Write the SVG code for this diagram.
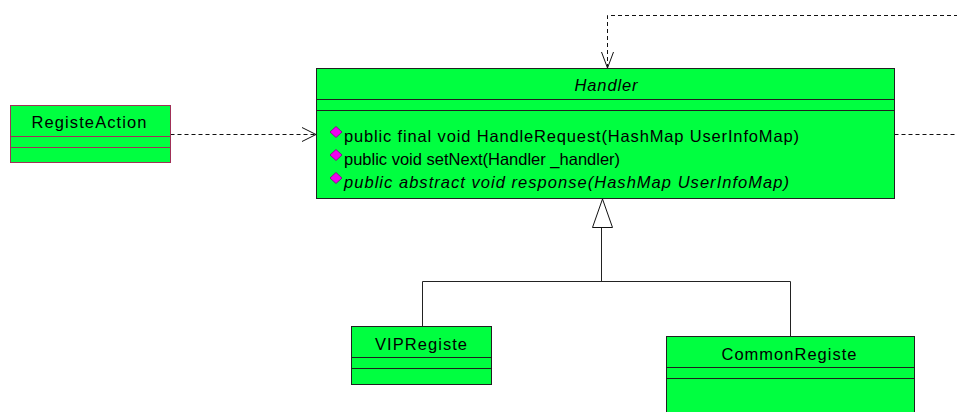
<svg xmlns="http://www.w3.org/2000/svg" width="957" height="412" viewBox="0 0 957 412">
<style>
.box{fill:#00ff40;stroke:#202020;stroke-width:1}
.boxr{fill:#00ff40;stroke:#a03058;stroke-width:1}
.div{stroke:#202020;stroke-width:1;fill:none}
.divr{stroke:#a03058;stroke-width:1;fill:none}
text{font-family:"Liberation Sans",Arial,sans-serif;font-size:16.5px;fill:#000}
.c{text-anchor:middle}
.it{font-style:italic}
.dash{stroke:#111;stroke-width:1;fill:none;stroke-dasharray:4,3}
.solid{stroke:#222;stroke-width:1;fill:none}
.head{stroke:#111;stroke-width:1;fill:none}
.dia{fill:#f000f0;stroke:#800080;stroke-width:0.8}
</style>
<g id="connectors">
  <path class="dash" d="M170.5,134.5 H315"/>
  <path class="head" d="M302,127.5 L316,134.5 L302,141.5"/>
  <path class="dash" d="M607.5,68 V15.5 H957"/>
  <path class="head" d="M601.5,52 L607.5,68 L613.5,52"/>
  <path class="dash" d="M894.5,134.5 H957"/>
  <path class="solid" d="M422.5,326 V281.5 H790.5 V336"/>
  <path class="solid" d="M601.5,281.5 V227"/>
  <polygon points="602.5,199 592.5,227.5 612.5,227.5" fill="#fff" stroke="#111" stroke-width="1"/>
</g>
<g id="RegisteAction">
  <rect class="boxr" x="10.5" y="105.5" width="160" height="57"/>
  <path class="divr" d="M10.5,136.5 H170.5 M10.5,147.5 H170.5"/>
  <text x="89" y="128" class="c" textLength="115">RegisteAction</text>
</g>
<g id="Handler">
  <rect class="box" x="316.5" y="68.5" width="578" height="130"/>
  <path class="div" d="M316.5,99.5 H894.5 M316.5,110.5 H894.5"/>
  <text x="606" y="91" class="c it" textLength="63">Handler</text>
  <polygon class="dia" points="336,126.5 342,132 336,137.5 330,132"/>
  <polygon class="dia" points="336,149.5 342,155 336,160.5 330,155"/>
  <polygon class="dia" points="336,172.5 342,178 336,183.5 330,178"/>
  <text x="344" y="142" textLength="455">public final void HandleRequest(HashMap UserInfoMap)</text>
  <text x="344" y="165">public void setNext(Handler _handler)</text>
  <text x="344" y="188" class="it" textLength="445">public abstract void response(HashMap UserInfoMap)</text>
</g>
<g id="VIPRegiste">
  <rect class="box" x="351.5" y="326.5" width="140" height="58"/>
  <path class="div" d="M351.5,357.5 H491.5 M351.5,368.5 H491.5"/>
  <text x="421" y="350" class="c" textLength="92">VIPRegiste</text>
</g>
<g id="CommonRegiste">
  <rect class="box" x="666.5" y="336.5" width="248" height="90"/>
  <path class="div" d="M666.5,367.5 H914.5 M666.5,378.5 H914.5"/>
  <text x="789" y="360" class="c" textLength="135">CommonRegiste</text>
</g>
</svg>
